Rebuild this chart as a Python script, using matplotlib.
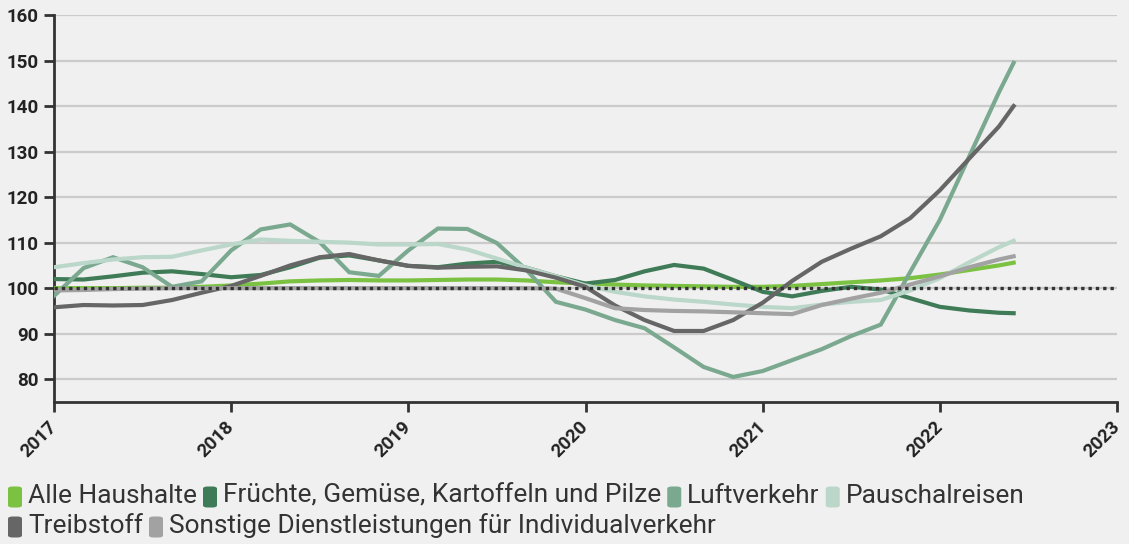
import matplotlib
matplotlib.use("Agg")
import matplotlib.pyplot as plt
from matplotlib.patches import FancyBboxPatch

plt.rcParams['font.family'] = ['Roboto', 'DejaVu Sans']

# ---- data ----
dates = ["2017-01", "2017-03", "2017-05", "2017-07", "2017-09", "2017-11",
         "2018-01", "2018-03", "2018-05", "2018-07", "2018-09", "2018-11",
         "2019-01", "2019-03", "2019-05", "2019-07", "2019-09", "2019-11",
         "2020-01", "2020-03", "2020-05", "2020-07", "2020-09", "2020-11",
         "2021-01", "2021-03", "2021-05", "2021-07", "2021-09", "2021-11",
         "2022-01", "2022-03", "2022-05", "2022-06"]

alle_haushalte = [100.0, 100.0, 100.0, 100.1, 100.1, 100.3, 100.6, 101.0, 101.5, 101.7,
                  101.8, 101.7, 101.7, 101.8, 101.9, 101.9, 101.7, 101.3, 101.0, 100.8,
                  100.6, 100.5, 100.4, 100.3, 100.3, 100.5, 100.9, 101.3, 101.7, 102.2,
                  103.0, 104.0, 105.0, 105.6]
fruechte = [102.0, 101.9, 102.6, 103.4, 103.7, 103.1, 102.4, 102.9, 104.6, 106.7,
            107.2, 106.1, 104.9, 104.6, 105.4, 105.8, 104.5, 102.6, 101.0, 101.8,
            103.7, 105.1, 104.3, 101.8, 99.2, 98.2, 99.4, 100.3, 99.7, 97.8,
            95.9, 95.1, 94.6, 94.5]
luftverkehr = [98.3, 104.4, 106.8, 104.6, 100.3, 101.5, 108.3, 112.9, 114.0, 110.1,
               103.5, 102.7, 108.3, 113.1, 113.0, 109.9, 104.0, 97.0, 95.3, 93.0,
               91.2, 87.0, 82.7, 80.5, 81.8, 84.2, 86.6, 89.5, 92.0, 103.6,
               115.0, 129.0, 143.0, 149.5]
pauschalreisen = [104.6, 105.5, 106.3, 106.8, 106.9, 108.3, 109.6, 110.7, 110.4, 110.2,
                  110.0, 109.6, 109.6, 109.7, 108.5, 106.5, 104.5, 102.6, 100.6, 99.2,
                  98.2, 97.5, 97.0, 96.4, 95.9, 95.6, 96.4, 97.0, 97.4, 99.5,
                  102.2, 105.7, 109.0, 110.4]
treibstoff = [95.8, 96.3, 96.2, 96.3, 97.4, 99.0, 100.5, 102.7, 105.0, 106.8,
              107.5, 106.1, 104.9, 104.5, 104.7, 104.8, 103.9, 102.3, 100.3, 96.2,
              93.0, 90.6, 90.6, 93.0, 96.8, 101.6, 105.8, 108.7, 111.4, 115.4,
              121.5, 128.5, 135.5, 140.0]
sonstige = [99.5, 99.6, 99.8, 99.9, 100.0, 100.0, 100.0, 100.0, 100.0, 100.0,
            100.0, 100.0, 100.0, 100.0, 100.0, 100.0, 100.0, 99.9, 97.8, 95.6,
            95.2, 95.0, 94.9, 94.7, 94.5, 94.3, 96.3, 97.7, 99.0, 100.8,
            102.6, 104.6, 106.3, 107.0]

series_names = ["Alle Haushalte", "Früchte, Gemüse, Kartoffeln und Pilze", "Luftverkehr",
                "Pauschalreisen", "Treibstoff", "Sonstige Dienstleistungen für Individualverkehr"]
series_values = [alle_haushalte, fruechte, luftverkehr, pauschalreisen, treibstoff, sonstige]
colors = ["#7cc242", "#3f7b57", "#7aa98f", "#bad7ca", "#666666", "#a2a2a2"]

year_ticks = [2017, 2018, 2019, 2020, 2021, 2022, 2023]
y_ticks = [80, 90, 100, 110, 120, 130, 140, 150, 160]
reference_value = 100

# ---- figure ----
W, H = 1129, 544
BG = "#f0f0f0"
fig = plt.figure(figsize=(W / 100, H / 100), dpi=100, facecolor=BG)
ax = fig.add_axes([54 / W, 1 - 402 / H, (1117 - 54) / W, (402 - 15) / H], facecolor=BG)

def to_decimal(d):
    y, m = d.split("-")
    return int(y) + (int(m) - 1) / 12.0

x = [to_decimal(d) for d in dates]

for yt in y_ticks:
    ax.axhline(yt, color="#cbcbcb", lw=1.6, zorder=1)

for name, vals, c in zip(series_names, series_values, colors):
    ax.plot(x, vals, color=c, lw=3.0, solid_joinstyle="miter", zorder=3)

ax.axhline(reference_value, color="#333333", lw=2.4, ls=(0, (1, 1.2)), zorder=5)

ax.set_xlim(2017, 2023)
ax.set_ylim(75, 160)
ax.set_xticks(year_ticks)
ax.set_xticklabels([str(t) for t in year_ticks], rotation=45, ha="right", va="center",
                   rotation_mode="anchor", fontweight="bold", fontsize=13.5, color="#222222")
ax.set_yticks(y_ticks)
ax.set_yticklabels([str(t) for t in y_ticks], fontweight="bold", fontsize=13.5, color="#222222")
ax.tick_params(axis="both", direction="out", length=7, width=2, color="#333333")
ax.tick_params(axis="x", pad=9)
ax.tick_params(axis="y", pad=4)
for s in ["top", "right"]:
    ax.spines[s].set_visible(False)
for s in ["left", "bottom"]:
    ax.spines[s].set_color("#333333")
    ax.spines[s].set_linewidth(2)

# ---- legend (flowing layout) ----
fig.canvas.draw()
renderer = fig.canvas.get_renderer()
fs = 18.9
row_y = [497, 527]
mw, mh = 14, 21
gap_m, gap_t = 6, 6
cx, row = 8, 0
for name, c in zip(series_names, colors):
    t = fig.text(0, 0, name, fontsize=fs, color="#333333", va="center", ha="left")
    tw = t.get_window_extent(renderer).width
    if cx + mw + gap_m + tw > W - 5:
        row += 1
        cx = 8
    yc = row_y[row]
    patch = FancyBboxPatch(((cx) / W, (H - yc - mh / 2) / H), mw / W, mh / H,
                           boxstyle="round,pad=0,rounding_size=0.004",
                           transform=fig.transFigure, facecolor=c, edgecolor="none")
    fig.patches.append(patch)
    t.set_position(((cx + mw + gap_m) / W, (H - yc + 1) / H))
    cx += mw + gap_m + tw + gap_t

fig.savefig("out.png", dpi=100, facecolor=BG)
